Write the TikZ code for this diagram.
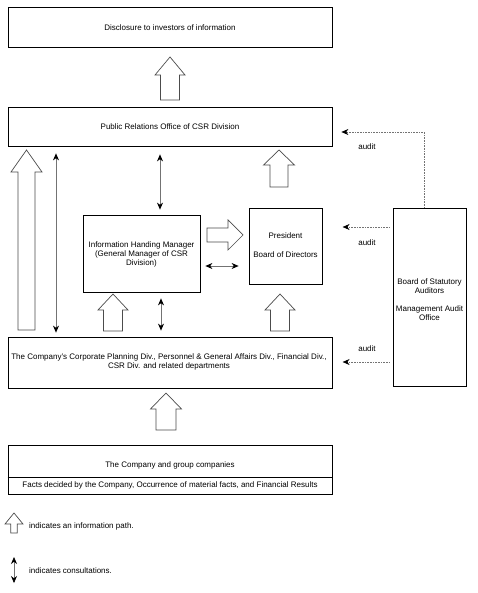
\documentclass[tikz,border=0pt]{standalone}
\usepackage{fontspec}
\setmainfont{Liberation Sans}
\usetikzlibrary{arrows.meta}
\tikzset{
  box/.style={draw=black,line width=0.8pt,inner sep=0pt,align=center},
  txt/.style={font=\fontsize{8}{9}\selectfont,align=center,inner sep=0pt},
  hollow/.style={draw=black!70,line width=0.7pt,fill=white,line join=miter},
  dbl/.style={{Stealth[length=7pt,width=6pt,black]}-{Stealth[length=7pt,width=6pt,black]},line width=0.7pt,draw=black!55},
  auditline/.style={-{Stealth[length=7pt,width=6pt,black]},draw=black!55,densely dotted,line width=0.6pt},
}
\newcommand\hollowup[6]{% x, tip, head base, bottom, half head, half shaft
  \draw[hollow] (#1-#6,#4) -- (#1-#6,#3) -- (#1-#5,#3) -- (#1,#2) -- (#1+#5,#3) -- (#1+#6,#3) -- (#1+#6,#4) -- cycle;}
\newcommand\hollowright[6]{% y, tip, head base, start, half head, half shaft
  \draw[hollow] (#4,#1-#6) -- (#3,#1-#6) -- (#3,#1-#5) -- (#2,#1) -- (#3,#1+#5) -- (#3,#1+#6) -- (#4,#1+#6) -- cycle;}
\begin{document}
\begin{tikzpicture}[x=1pt,y=-1pt]
\useasboundingbox (0,0) rectangle (477,593);
\fill[white] (0,0) rectangle (477,593);

% boxes
\node[box,minimum width=324pt,minimum height=40pt] (disc) at (170,27.5) {};
\node[txt] at (170,27.5) {Disclosure to investors of information};

\node[box,minimum width=324pt,minimum height=39pt] (pr) at (170,126.5) {};
\node[txt] at (170,126.5) {Public Relations Office of CSR Division};

\node[box,minimum width=117pt,minimum height=77pt] (ihm) at (141.5,253.5) {};
\node[txt] at (141.5,254.5) {Information Handing Manager\\(General Manager of CSR\\Division)};

\node[box,minimum width=73pt,minimum height=76pt] (pres) at (285.5,246) {};
\node[txt] at (285.5,245.5) {President\\[10pt]Board of Directors};

\node[box,minimum width=73pt,minimum height=178pt] (bsa) at (429.5,297) {};
\node[txt] at (429.5,299.5) {Board of Statutory\\Auditors\\[9pt]Management Audit\\Office};

\node[box,minimum width=324pt,minimum height=51pt] (corp) at (170,362.5) {};
\node[txt] at (169,361.5) {The Company's Corporate Planning Div., Personnel \& General Affairs Div., Financial Div.,\\CSR Div. and related departments};

\node[box,minimum width=324pt,minimum height=49pt] (grp) at (170,469.5) {};
\draw[line width=0.8pt] (grp.west |- 0,477) -- (grp.east |- 0,477);
\node[txt] at (170,465) {The Company and group companies};
\node[txt] at (170,485.5) {Facts decided by the Company, Occurrence of material facts, and Financial Results};

% hollow arrows (information paths)
\hollowup{170}{57}{75}{100}{15}{9.5}
\hollowup{26.5}{150}{172}{330}{15.5}{8.5}
\hollowup{279}{150}{165}{187}{15.5}{9}
\hollowup{113}{294}{310}{331}{15}{9.5}
\hollowup{280}{294}{310}{331}{15}{9.5}
\hollowup{166}{393}{409}{430}{15.5}{10}
\hollowright{235}{243}{228}{207}{15}{7}

% consultations
\coordinate (c56) at (56,0);
\coordinate (c160) at (160,0);
\coordinate (c161) at (161,0);
\draw[dbl] ([yshift=-7pt]pr.south -| c56) -- ([yshift=4pt]corp.north -| c56);
\draw[dbl] ([yshift=-8pt]pr.south -| c160) -- ([yshift=5pt]ihm.north -| c160);
\draw[dbl] ([yshift=-6pt]ihm.south -| c161) -- ([yshift=6pt]corp.north -| c161);
\coordinate (h266) at (0,266);
\draw[dbl] ([xshift=5pt]ihm.east |- h266) -- ([xshift=-10pt]pres.west |- h266);

% audit
\coordinate (a424) at (424,132);
\coordinate (a227) at (0,227);
\coordinate (a362) at (0,362);
\draw[auditline] (bsa.north -| a424) -- (a424) -- ([xshift=9pt]pr.east |- a424);
\draw[auditline] ([xshift=-3pt]bsa.west |- a227) -- ([xshift=-50pt]bsa.west |- a227);
\draw[auditline] ([xshift=-3pt]bsa.west |- a362) -- ([xshift=-50pt]bsa.west |- a362);
\node[txt] at (367,147) {audit};
\node[txt] at (367,243) {audit};
\node[txt] at (367,349) {audit};

% legend
\hollowup{14}{513}{524}{533}{9}{3.3}
\node[txt,anchor=west] at (29,526) {indicates an information path.};
\coordinate (l14) at (14,557);
\coordinate (l14b) at (14,583);
\draw[dbl] (l14) -- (l14b);
\node[txt,anchor=west] at (29,571) {indicates consultations.};
\end{tikzpicture}
\end{document}
